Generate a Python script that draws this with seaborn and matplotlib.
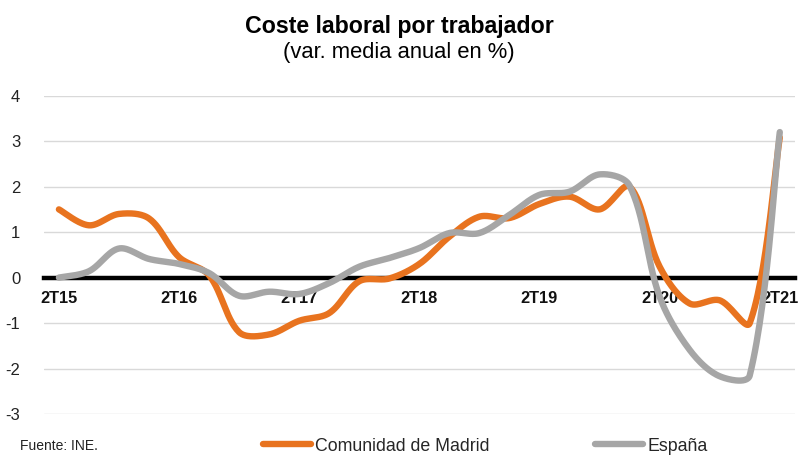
import numpy as np
import pandas as pd
import matplotlib
matplotlib.use("Agg")
import matplotlib.pyplot as plt
import seaborn as sns

quarters = ["2T15", "3T15", "4T15", "1T16", "2T16", "3T16", "4T16", "1T17", "2T17", "3T17", "4T17", "1T18",
            "2T18", "3T18", "4T18", "1T19", "2T19", "3T19", "4T19", "1T20", "2T20", "3T20", "4T20", "1T21", "2T21"]
madrid = [1.50, 1.15, 1.40, 1.30, 0.45, 0.05, -1.20, -1.25, -0.95, -0.78, -0.08, -0.02,
          0.30, 0.90, 1.34, 1.31, 1.62, 1.78, 1.50, 2.00, 0.24, -0.57, -0.50, -1.00, 3.08]
espana = [0.00, 0.14, 0.64, 0.41, 0.30, 0.10, -0.40, -0.31, -0.36, -0.12, 0.24, 0.43,
          0.65, 0.98, 0.98, 1.38, 1.82, 1.89, 2.27, 2.02, -0.42, -1.59, -2.17, -2.15, 3.20]
series_names = ["Comunidad de Madrid", "España"]
colors = {"Comunidad de Madrid": "#E8731F", "España": "#A6A6A6"}
xtick_labels = ["2T15", "2T16", "2T17", "2T18", "2T19", "2T20", "2T21"]


def smooth(vals, n=30, sx=30.0, sy=45.5):
    # Excel-style smoothed line: Bezier segments through the data points,
    # tangents split by chord length (in screen-like units)
    p = np.column_stack([np.arange(len(vals), dtype=float), np.asarray(vals, float)])
    m = len(p)
    cin = p.copy()
    cout = p.copy()
    for i in range(m):
        pm = p[i - 1] if i > 0 else p[i]
        pp = p[i + 1] if i + 1 < m else p[i]
        T = pp - pm
        din = np.hypot((p[i, 0] - pm[0]) * sx, (p[i, 1] - pm[1]) * sy)
        dout = np.hypot((pp[0] - p[i, 0]) * sx, (pp[1] - p[i, 1]) * sy)
        tot = din + dout
        if tot == 0:
            continue
        if i == 0 or i == m - 1:
            cin[i] = p[i] - T / 6.0
            cout[i] = p[i] + T / 6.0
        else:
            cin[i] = p[i] - T * din / tot / 3.0
            cout[i] = p[i] + T * dout / tot / 3.0
    out = []
    for i in range(m - 1):
        p0, p3 = p[i], p[i + 1]
        c1, c2 = cout[i], cin[i + 1]
        t = np.linspace(0, 1, n, endpoint=(i == m - 2))[:, None]
        seg = (1 - t) ** 3 * p0 + 3 * (1 - t) ** 2 * t * c1 + 3 * (1 - t) * t ** 2 * c2 + t ** 3 * p3
        out.append(seg)
    return np.vstack(out)


frames = []
for name, vals in zip(series_names, [madrid, espana]):
    s = smooth(vals)
    frames.append(pd.DataFrame({"x": s[:, 0], "y": s[:, 1], "serie": name}))
df = pd.concat(frames, ignore_index=True)

sns.set_theme(style="white")
plt.rcParams["font.family"] = ["Liberation Sans", "DejaVu Sans"]

fig = plt.figure(figsize=(7.98, 4.59), dpi=100)
ax = fig.add_axes([0.055, 0.098, 0.941, 0.6935])

for y in range(-3, 5):
    ax.axhline(y, color="#D9D9D9", lw=1.0, zorder=0)

n_before = len(ax.lines)
sns.lineplot(data=df, x="x", y="y", hue="serie", hue_order=series_names, palette=colors,
             sort=False, estimator=None, linewidth=4.6, legend=False, ax=ax, zorder=3)
series_lines = ax.lines[n_before:]
for ln in series_lines:
    ln.set_solid_capstyle("round")
    ln.set_solid_joinstyle("round")

for side in ["top", "right", "left"]:
    ax.spines[side].set_visible(False)
ax.spines["bottom"].set_position(("data", 0))
ax.spines["bottom"].set_linewidth(3.2)
ax.spines["bottom"].set_color("black")
ax.spines["bottom"].set_zorder(2)

ax.set_xlim(-0.5, 24.5)
ax.set_ylim(-3, 4)
ax.set_yticks(range(-3, 5))
ax.set_yticklabels([str(v) for v in range(-3, 5)], fontsize=12, color="#222222")
ax.set_xticks(range(0, 25, 4))
ax.set_xticklabels(xtick_labels, fontsize=11.8, fontweight="bold", color="#111111")
ax.tick_params(axis="y", length=0, pad=17)
ax.tick_params(axis="x", length=0, pad=10)
ax.set_xlabel("")
ax.set_ylabel("")

fig.text(0.5, 0.943, "Coste laboral por trabajador", ha="center", va="center",
         fontsize=16.7, fontweight="bold", color="black")
fig.text(0.5, 0.886, "(var. media anual en %)", ha="center", va="center",
         fontsize=15.8, color="black")
fig.text(0.025, 0.013, "Fuente: INE.", ha="left", va="bottom", fontsize=10, color="#222222")

leg = fig.legend(series_lines, series_names, loc="center", bbox_to_anchor=(0.608, 0.028), ncol=2,
                 frameon=False, fontsize=12.8, handlelength=2.7, handletextpad=0.25,
                 columnspacing=5.9, borderaxespad=0)

fig.savefig("out.png", dpi=100)
